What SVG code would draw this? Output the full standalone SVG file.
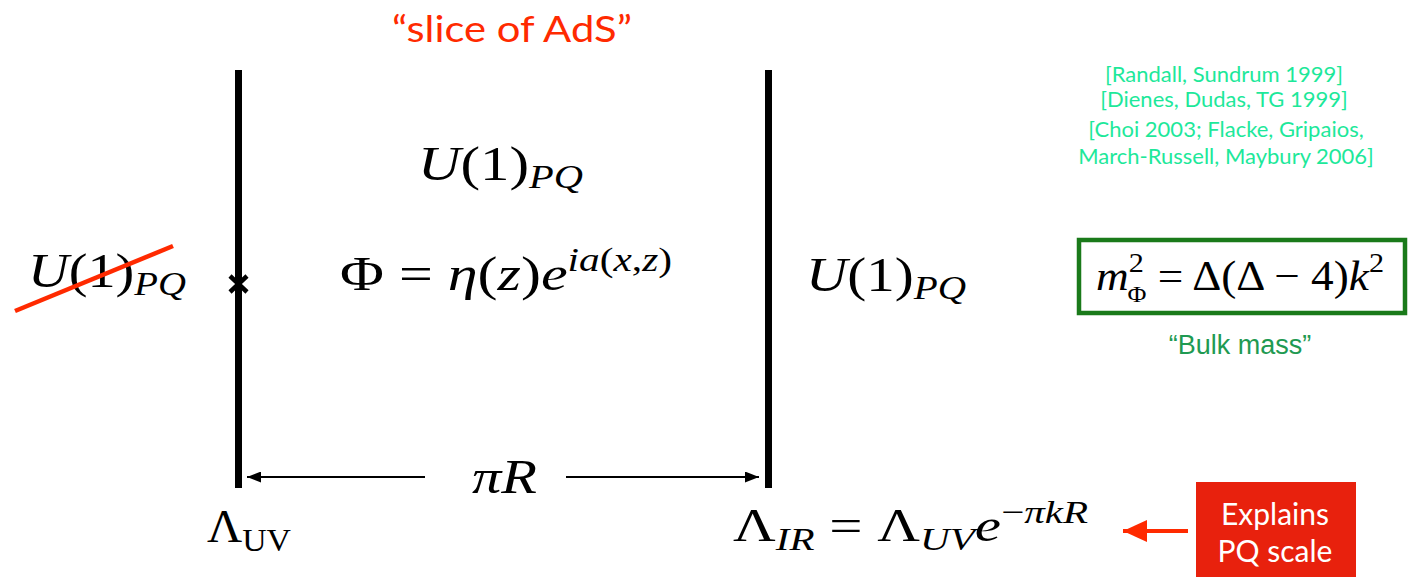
<svg xmlns="http://www.w3.org/2000/svg" width="1410" height="577" viewBox="0 0 1410 577">
<style>
.m{font-family:"Liberation Serif","DejaVu Serif",serif;fill:#000}
.i{font-style:italic}
.g{font-family:Lato,"Open Sans",sans-serif}
</style>
<defs>
<marker id="ah" viewBox="0 0 10 10" refX="10" refY="5" markerWidth="14" markerHeight="11" markerUnits="userSpaceOnUse" orient="auto" preserveAspectRatio="none"><path d="M0,0 L10,5 L0,10 Z" fill="#000"/></marker>
<marker id="rh" viewBox="0 0 10 10" refX="10" refY="5" markerWidth="24" markerHeight="22" markerUnits="userSpaceOnUse" orient="auto" preserveAspectRatio="none"><path d="M0,0 L10,5 L0,10 Z" fill="#ff2a00"/></marker>
</defs>
<rect width="1410" height="577" fill="#fff"/>
<g id="title"><text x="392" y="42" class="g" font-size="37" fill="#ff2a00" textLength="240" lengthAdjust="spacingAndGlyphs">“slice of AdS”</text></g>
<g id="uv-brane"><rect x="235" y="70" width="7" height="418" fill="#000"/>
<path d="M230,276 L247,292 M247,276 L230,292" stroke="#000" stroke-width="4.5"/></g>
<g id="ir-brane"><rect x="765" y="70" width="7" height="418" fill="#000"/></g>
<g id="bulk-sym"><text x="418" y="180" class="m" font-size="48" textLength="165" lengthAdjust="spacingAndGlyphs"><tspan class="i">U</tspan>(1)<tspan class="i" font-size="33" dy="8">PQ</tspan></text></g>
<g id="field"><text x="340" y="290" class="m" font-size="48" textLength="332" lengthAdjust="spacingAndGlyphs">Φ = <tspan class="i">η</tspan>(<tspan class="i">z</tspan>)<tspan class="i">e</tspan><tspan class="i" font-size="33" dy="-19">ia</tspan><tspan font-size="33">(<tspan class="i">x</tspan>,<tspan class="i">z</tspan>)</tspan></text></g>
<g id="uv-sym"><text x="28" y="287" class="m" font-size="48" textLength="158" lengthAdjust="spacingAndGlyphs"><tspan class="i">U</tspan>(1)<tspan class="i" font-size="33" dy="8">PQ</tspan></text>
<line x1="15" y1="311" x2="173" y2="246" stroke="#ff2a00" stroke-width="4.5"/></g>
<g id="ir-sym"><text x="806" y="291" class="m" font-size="48" textLength="160" lengthAdjust="spacingAndGlyphs"><tspan class="i">U</tspan>(1)<tspan class="i" font-size="33" dy="8">PQ</tspan></text></g>
<g id="refs" class="g" font-size="22" fill="#1de89a" text-anchor="middle">
<text x="1224" y="82">[Randall, Sundrum  1999]</text>
<text x="1224" y="107">[Dienes, Dudas, TG  1999]</text>
<text x="1226" y="137">[Choi 2003; Flacke, Gripaios,</text>
<text x="1226" y="164">March-Russell, Maybury 2006]</text>
</g>
<g id="bulk-mass"><rect x="1079" y="240" width="326" height="73" fill="none" stroke="#1a7a1a" stroke-width="4.5"/>
<text x="1096" y="290" class="m" font-size="42" textLength="288" lengthAdjust="spacingAndGlyphs"><tspan class="i">m</tspan><tspan font-size="28" dy="-18">2</tspan><tspan font-size="24" dx="-15" dy="30">Φ</tspan><tspan dy="-12"> = Δ(Δ − 4)</tspan><tspan class="i">k</tspan><tspan font-size="28" dy="-18">2</tspan></text>
<text x="1240" y="354" text-anchor="middle" font-family="Liberation Sans,Arial,sans-serif" font-size="27" fill="#1f9a52">“Bulk mass”</text></g>
<g id="connectors">
<line x1="425" y1="477" x2="247" y2="477" stroke="#000" stroke-width="2" marker-end="url(#ah)"/>
<line x1="566" y1="477" x2="759" y2="477" stroke="#000" stroke-width="2" marker-end="url(#ah)"/>
<line x1="1188" y1="531" x2="1123" y2="531" stroke="#ff2a00" stroke-width="4" marker-end="url(#rh)"/>
</g>
<g id="piR"><text x="472" y="493" class="m" font-size="48" textLength="65" lengthAdjust="spacingAndGlyphs"><tspan class="i">πR</tspan></text></g>
<g id="lambda-uv"><text x="207" y="542" class="m" font-size="46" textLength="84" lengthAdjust="spacingAndGlyphs">Λ<tspan font-size="32" dy="9">UV</tspan></text></g>
<g id="lambda-ir"><text x="733" y="541" class="m" font-size="46" textLength="355" lengthAdjust="spacingAndGlyphs">Λ<tspan class="i" font-size="32" dy="9">IR</tspan><tspan dy="-9"> = Λ</tspan><tspan class="i" font-size="32" dy="9">UV</tspan><tspan class="i" dy="-9">e</tspan><tspan font-size="32" dy="-18">−<tspan class="i">πkR</tspan></tspan></text></g>
<g id="explains"><rect x="1196" y="482" width="160" height="95" fill="#e8210d"/>
<text x="1275" y="525" text-anchor="middle" class="g" font-size="30" fill="#fff">Explains</text>
<text x="1275" y="562" text-anchor="middle" class="g" font-size="30" fill="#fff">PQ scale</text></g>
</svg>
